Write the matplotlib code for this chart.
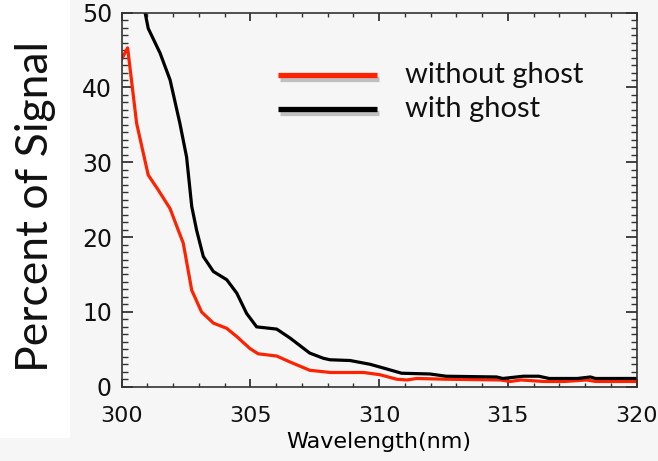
import matplotlib
matplotlib.use('Agg')
import matplotlib.pyplot as plt
from matplotlib.lines import Line2D
from matplotlib.patches import Rectangle
from matplotlib.ticker import MultipleLocator
import matplotlib.patheffects as pe

# signal fraction vs wavelength
red_wl = [300.0, 300.23, 300.58, 301.03, 301.42, 301.88, 302.2, 302.39, 302.72, 303.1,
          303.56, 304.08, 304.47, 304.98, 305.3, 306.02, 306.54, 307.3, 308.1, 309.4,
          310.03, 310.68, 311.07, 311.46, 312.6, 314.7, 315.1, 315.5, 316.4, 317.2,
          318.06, 318.4, 320.0]
red_pct = [43.8, 45.3, 35.2, 28.3, 26.3, 23.8, 20.9, 19.2, 12.9, 10.0,
           8.5, 7.8, 6.7, 5.1, 4.4, 4.1, 3.3, 2.2, 1.9, 1.9,
           1.6, 1.0, 0.9, 1.1, 1.0, 0.9, 0.7, 0.9, 0.7, 0.7,
           0.9, 0.7, 0.7]

black_wl = [300.88, 301.03, 301.49, 301.88, 302.26, 302.52, 302.72, 302.91, 303.17, 303.56,
            304.08, 304.47, 304.85, 305.24, 306.02, 306.54, 307.3, 307.83, 308.09, 308.87,
            309.64, 310.16, 310.87, 311.97, 312.6, 314.56, 314.8, 315.6, 316.2, 316.6,
            317.7, 318.2, 318.4, 320.0]
black_pct = [50.5, 47.9, 44.6, 41.0, 35.2, 30.7, 24.1, 20.9, 17.4, 15.4,
             14.3, 12.5, 9.8, 8.0, 7.7, 6.5, 4.5, 3.8, 3.6, 3.5,
             3.0, 2.5, 1.8, 1.7, 1.4, 1.3, 1.1, 1.4, 1.4, 1.1,
             1.1, 1.3, 1.1, 1.1]

labels = ['without ghost', 'with ghost']
colors = ['#ff2200', '#000000']
bg = '#f6f6f6'

fig = plt.figure(figsize=(6.58, 4.61), dpi=100, facecolor=bg)
# white block behind the big y label
fig.patches.append(Rectangle((0, 1 - 438 / 461), 70 / 658, 438 / 461,
                             transform=fig.transFigure, facecolor='white',
                             edgecolor='none', zorder=0))

ax = fig.add_axes([121.7 / 658, 1 - 386.7 / 461, 515 / 658, 374 / 461])
ax.set_facecolor(bg)

ax.plot(red_wl, red_pct, color=colors[0], lw=2.3)
ax.plot(black_wl, black_pct, color=colors[1], lw=2.3)

ax.set_xlim(300, 320)
ax.set_ylim(0, 50)
ax.xaxis.set_major_locator(MultipleLocator(5))
ax.xaxis.set_minor_locator(MultipleLocator(1))
ax.yaxis.set_major_locator(MultipleLocator(10))
ax.yaxis.set_minor_locator(MultipleLocator(1))

for s in ax.spines.values():
    s.set_color('#333333')
    s.set_linewidth(1.2)

ax.tick_params(axis='y', which='major', direction='in', length=8, width=1.1,
               left=True, right=True, labelsize=17, pad=7, colors='#111111')
ax.tick_params(axis='y', which='minor', direction='in', length=4, width=1.0,
               left=True, right=True, colors='#333333')
ax.tick_params(axis='x', which='major', direction='in', length=5.5, width=1.1,
               bottom=True, top=True, labelsize=16, pad=14, colors='#111111')
ax.tick_params(axis='x', which='minor', direction='in', length=3, width=1.0,
               bottom=True, top=True, colors='#333333')

fig.canvas.draw()
ylabs = ax.get_yticklabels()
ylabs[0].set_va('bottom')
ylabs[-1].set_va('top')

ax.set_xlabel('Wavelength(nm)', fontsize=16, labelpad=4)
fig.text(36 / 658, 1 - 207 / 461, 'Percent of Signal', rotation=90,
         ha='center', va='center', fontsize=32, family='Lato', color='#111111')

# legend drawn by hand with a soft drop shadow on the swatches
shadow = [pe.SimpleLineShadow(offset=(1.5, -3), shadow_color='gray', alpha=0.45),
          pe.Normal()]
for i, (lab, c) in enumerate(zip(labels, colors)):
    y = 1 - (75 + 34 * i) / 461
    fig.add_artist(Line2D([278 / 658, 377 / 658], [y, y], transform=fig.transFigure,
                          color=c, lw=3.8, solid_capstyle='butt', path_effects=shadow))
    fig.text(405 / 658, y, lab, ha='left', va='center', fontsize=21,
             family='Lato', color='#111111')

fig.savefig('out.png', dpi=100, facecolor=bg)
